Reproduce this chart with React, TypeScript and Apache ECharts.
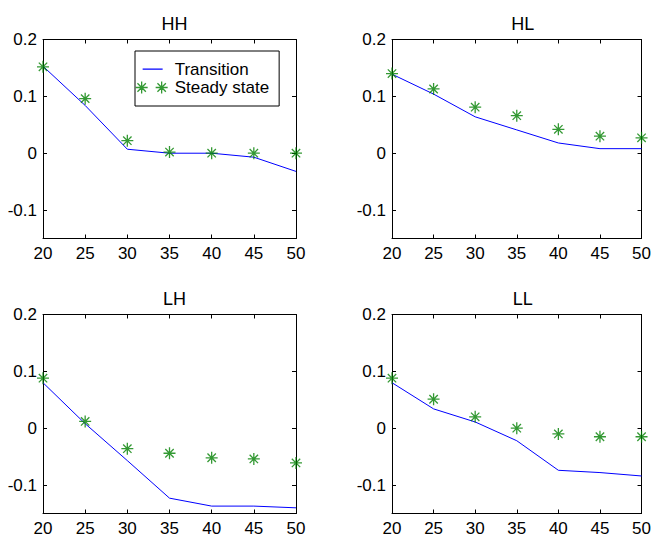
import React, { useEffect, useRef } from "react";
import * as echarts from "echarts";

const ages = [20, 25, 30, 35, 40, 45, 50];
const panelTitles = ["HH", "HL", "LH", "LL"];
const yTickValues = [-0.1, 0, 0.1, 0.2];

const hhTransition = [0.153, 0.084, 0.007, 0.0, 0.0, -0.007, -0.032];
const hhSteady = [0.152, 0.096, 0.022, 0.002, 0.0, 0.0, 0.0];
const hlTransition = [0.139, 0.104, 0.064, 0.041, 0.018, 0.008, 0.008];
const hlSteady = [0.14, 0.113, 0.081, 0.066, 0.042, 0.03, 0.027];
const lhTransition = [0.08, 0.008, -0.057, -0.123, -0.137, -0.137, -0.14];
const lhSteady = [0.088, 0.012, -0.036, -0.044, -0.052, -0.054, -0.061];
const llTransition = [0.08, 0.034, 0.011, -0.022, -0.074, -0.078, -0.084];
const llSteady = [0.088, 0.051, 0.02, 0.0, -0.01, -0.015, -0.015];

const transitions = [hhTransition, hlTransition, lhTransition, llTransition];
const steadies = [hhSteady, hlSteady, lhSteady, llSteady];

const FONT = "'Liberation Sans', Arial, Helvetica, sans-serif";
const STAR = "path://M6,0L6,12M0,6L12,6M1.8,1.8L10.2,10.2M1.8,10.2L10.2,1.8";
const STAR2 =
  "path://M6,0L6,12M0,6L12,6M1.8,1.8L10.2,10.2M1.8,10.2L10.2,1.8M26,0L26,12M20,6L32,6M21.8,1.8L30.2,10.2M21.8,10.2L30.2,1.8";
const LINE_ICON =
  "path://M0,0L0.01,0L0,0.01ZM7,5L27,5L27,6.2L7,6.2ZM32,12L31.99,12L32,11.99Z";

const grids = [
  { left: 43, top: 39.5, width: 253, height: 199 },
  { left: 392, top: 39.5, width: 251.5, height: 199 },
  { left: 43, top: 314.5, width: 253, height: 199 },
  { left: 392, top: 314.5, width: 251.5, height: 199 },
];

export default function App() {
  const ref = useRef<HTMLDivElement>(null);
  useEffect(() => {
    if (!ref.current) return;
    const chart = echarts.init(ref.current, undefined, { renderer: "svg" });
    const xAxes: any[] = [];
    const yAxes: any[] = [];
    const series: any[] = [];
    const titles: any[] = [];
    grids.forEach((g, i) => {
      const common = {
        gridIndex: i,
        axisLine: { show: true, onZero: false, lineStyle: { color: "#000", width: 1 } },
        axisTick: { show: true, inside: true, length: 4, lineStyle: { color: "#000" } },
        splitLine: { show: false },
      };
      xAxes.push({
        ...common,
        type: "value",
        position: "bottom",
        min: 20,
        max: 50,
        interval: 5,
        axisLabel: { color: "#000", fontSize: 17, fontFamily: FONT, margin: 6 },
      });
      xAxes.push({
        ...common,
        type: "value",
        position: "top",
        min: 20,
        max: 50,
        interval: 5,
        axisLabel: { show: false },
      });
      yAxes.push({
        ...common,
        type: "value",
        position: "left",
        min: -0.15,
        max: 0.2,
        axisTick: { ...common.axisTick, customValues: yTickValues },
        axisLabel: {
          color: "#000",
          fontSize: 17,
          fontFamily: FONT,
          margin: 6,
          customValues: yTickValues,
          formatter: (v: number) => String(Math.round(v * 10) / 10),
        },
      });
      yAxes.push({
        ...common,
        type: "value",
        position: "right",
        min: -0.15,
        max: 0.2,
        axisTick: { ...common.axisTick, customValues: yTickValues },
        axisLabel: { show: false },
      });
      series.push({
        name: "Transition",
        type: "line",
        xAxisIndex: 2 * i,
        yAxisIndex: 2 * i,
        data: ages.map((a, k) => [a, transitions[i][k]]),
        symbol: "none",
        lineStyle: { color: "#0000ff", width: 1 },
        itemStyle: { color: "#0000ff" },
        z: 3,
      });
      series.push({
        name: "Steady state",
        type: "scatter",
        xAxisIndex: 2 * i,
        yAxisIndex: 2 * i,
        data: ages.map((a, k) => [a, steadies[i][k]]),
        symbol: STAR,
        symbolSize: 12,
        itemStyle: { color: "#008000", borderColor: "#008000", borderWidth: 1.3 },
        z: 4,
      });
      titles.push({
        text: panelTitles[i],
        left: g.left + g.width / 2,
        top: g.top - 30,
        textAlign: "center",
        textStyle: { color: "#000", fontSize: 18, fontWeight: "normal", fontFamily: FONT },
      });
    });
    chart.setOption({
      animation: false,
      backgroundColor: "#fff",
      title: titles,
      grid: grids,
      xAxis: xAxes,
      yAxis: yAxes,
      series,
      legend: {
        left: 135,
        top: 51,
        orient: "vertical",
        backgroundColor: "#fff",
        borderColor: "#000",
        borderWidth: 1,
        borderRadius: 0,
        padding: [10, 10, 10, 0],
        itemGap: 1,
        itemWidth: 32,
        itemHeight: 12,
        textStyle: {
          color: "#000",
          fontSize: 17,
          lineHeight: 17,
          fontFamily: FONT,
          padding: [0, 0, 0, 2],
        },
        data: [
          {
            name: "Transition",
            icon: LINE_ICON,
            itemStyle: { color: "#0000ff", borderColor: "#0000ff", borderWidth: 0 },
          },
          {
            name: "Steady state",
            icon: STAR2,
            itemStyle: { color: "#008000", borderColor: "#008000", borderWidth: 1.3 },
          },
        ],
      },
    });
    return () => chart.dispose();
  }, []);
  return (
    <div
      ref={ref}
      style={{ position: "fixed", left: 0, top: 0, width: 654, height: 540, background: "#fff" }}
    />
  );
}
